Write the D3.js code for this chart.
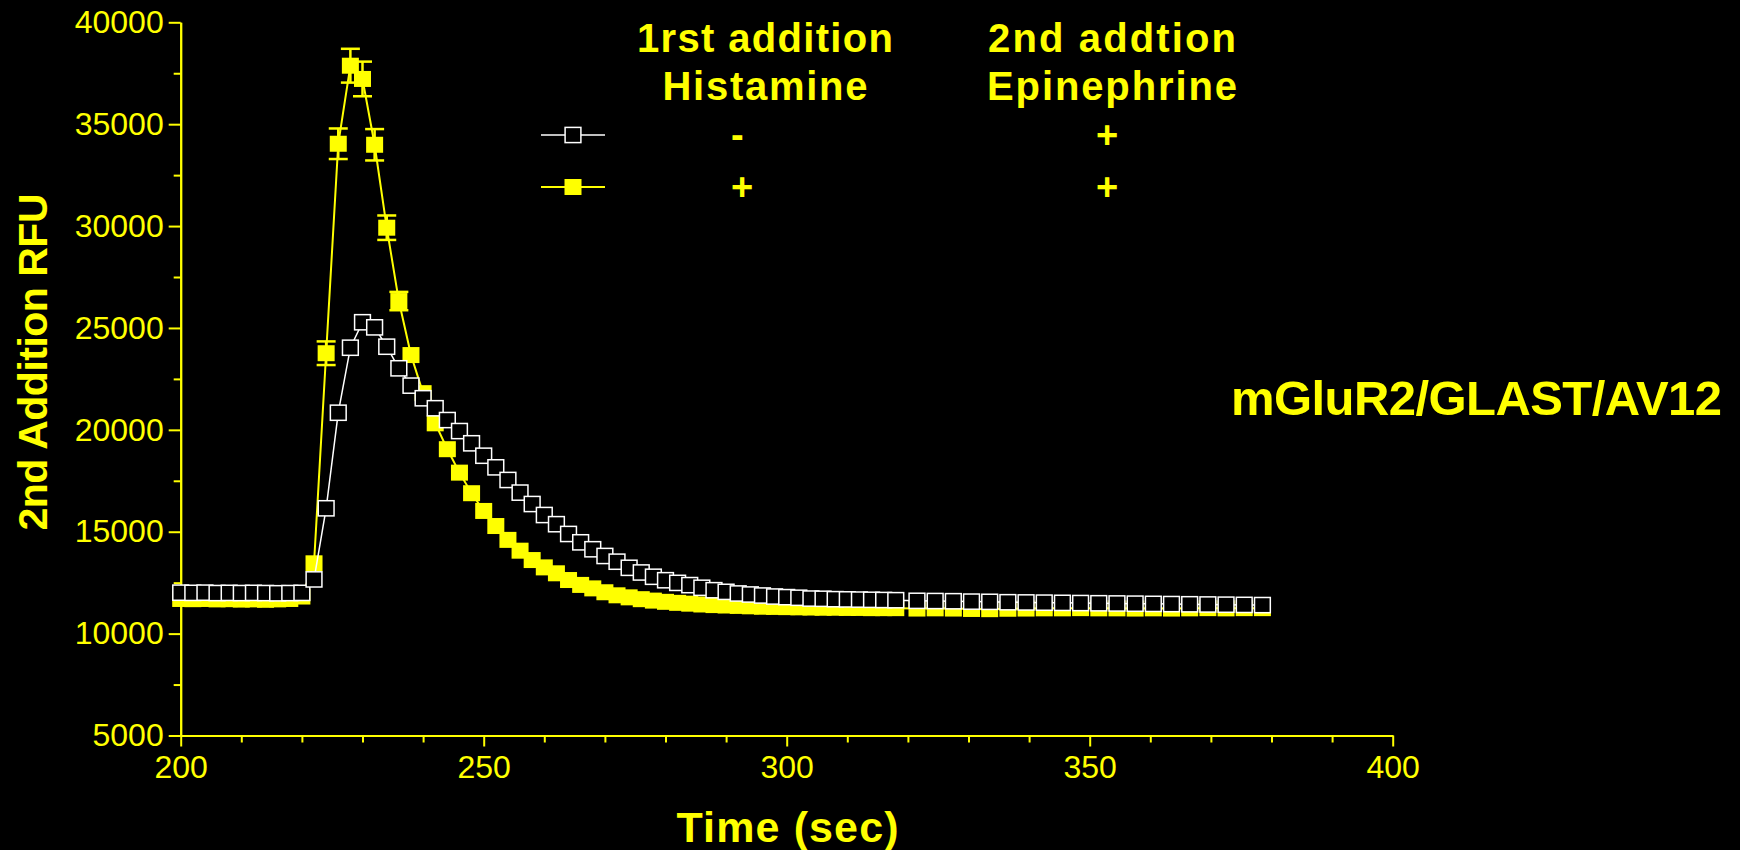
<!DOCTYPE html>
<html>
<head>
<meta charset="utf-8">
<script src="https://cdn.jsdelivr.net/npm/d3@7"></script>
<style>
  html, body { margin: 0; padding: 0; background: #000; }
  svg { display: block; }
  text { font-family: "Liberation Sans", Arial, sans-serif; fill: #ffff00; }
</style>
</head>
<body>
<div id="chart"></div>
<script>
// time points (sec): every 2 s up to 318, then every 3 s
const times = [
  200, 202, 204, 206, 208, 210, 212, 214, 216, 218,
  220, 222, 224, 226, 228, 230, 232, 234, 236, 238,
  240, 242, 244, 246, 248, 250, 252, 254, 256, 258,
  260, 262, 264, 266, 268, 270, 272, 274, 276, 278,
  280, 282, 284, 286, 288, 290, 292, 294, 296, 298,
  300, 302, 304, 306, 308, 310, 312, 314, 316, 318,
  321.5, 324.5, 327.5, 330.5, 333.5, 336.5, 339.5, 342.5, 345.5, 348.5,
  351.5, 354.5, 357.5, 360.5, 363.5, 366.5, 369.5, 372.5, 375.5, 378.5
];

// histamine - / epinephrine +  (open squares)
const rfuNoHist = [
  12010, 12000, 12010, 11990, 12000, 11990, 12000, 11990, 11980, 11990,
  12000, 12660, 16150, 20840, 24030, 25280, 25030, 24080, 23020, 22170,
  21550, 21060, 20480, 19940, 19340, 18730, 18160, 17540, 16920, 16360,
  15820, 15370, 14890, 14480, 14140, 13810, 13530, 13230, 13000, 12790,
  12620, 12490, 12380, 12250, 12130, 12050, 11970, 11920, 11870, 11820,
  11790, 11760, 11720, 11710, 11690, 11680, 11670, 11660, 11650, 11640,
  11610, 11600, 11590, 11570, 11560, 11540, 11530, 11520, 11510, 11500,
  11490, 11480, 11470, 11460, 11450, 11440, 11430, 11420, 11410, 11400
];

// histamine + / epinephrine +  (filled squares)
const rfuHist = [
  11700, 11690, 11700, 11680, 11690, 11670, 11680, 11660, 11680, 11700,
  11820, 13450, 23760, 34040, 37870, 37220, 33990, 29920, 26320, 23670,
  21800, 20320, 19050, 17900, 16890, 16020, 15280, 14600, 14070, 13610,
  13250, 12960, 12630, 12390, 12220, 12030, 11880, 11780, 11690, 11620,
  11560, 11510, 11470, 11430, 11400, 11380, 11360, 11340, 11320, 11310,
  11300, 11290, 11280, 11270, 11270, 11260, 11260, 11250, 11250, 11250,
  11230, 11240, 11230, 11210, 11200, 11220, 11230, 11240, 11240, 11250,
  11240, 11240, 11230, 11240, 11230, 11240, 11250, 11240, 11250, 11250
];

// error of the filled series (only the peak ones show outside the marker)
const errHist = [
  0, 0, 0, 0, 0, 0, 0, 0, 0, 0,
  0, 0, 580, 750, 830, 850, 770, 600, 450, 0
];

const xTicks = [200, 250, 300, 350, 400];
const xMinor = [210, 220, 230, 240, 260, 270, 280, 290, 310, 320, 330, 340, 360, 370, 380, 390];
const yTicks = [5000, 10000, 15000, 20000, 25000, 30000, 35000, 40000];
const yMinor = [7500, 12500, 17500, 22500, 27500, 32500, 37500];

const headers = [['1rst addition', 'Histamine'], ['2nd addtion', 'Epinephrine']];
const legendRows = [['-', '+'], ['+', '+']];

const YELLOW = '#ffff00';
const WHITE = '#ffffff';

const margin = { top: 22.3, left: 180.7 };
const width = 1212;
const height = 713.2;

const svg = d3.select('#chart')
  .append('svg')
  .attr('width', 1740)
  .attr('height', 850)
  .style('background', '#000');

const g = svg.append('g')
  .attr('transform', 'translate(' + margin.left + ',' + margin.top + ')');

const x = d3.scaleLinear().domain([200, 400]).range([0, width]);
const y = d3.scaleLinear().domain([5000, 40000]).range([height, 0]);

function styleAxis(sel) {
  sel.select('.domain').attr('stroke', YELLOW).attr('stroke-width', 2);
  sel.selectAll('.tick line').attr('stroke', YELLOW).attr('stroke-width', 2);
  sel.selectAll('.tick text')
    .attr('fill', YELLOW)
    .style('font-size', '32px')
    .style('font-family', '"Liberation Sans", Arial, sans-serif');
}

// minor ticks
g.append('g')
  .attr('transform', 'translate(0,' + height + ')')
  .call(d3.axisBottom(x).tickValues(xMinor).tickSize(7).tickSizeOuter(0).tickFormat(''))
  .call(styleAxis);
g.append('g')
  .call(d3.axisLeft(y).tickValues(yMinor).tickSize(7).tickSizeOuter(0).tickFormat(''))
  .call(styleAxis);

// X axis
g.append('g')
  .attr('transform', 'translate(0,' + height + ')')
  .call(d3.axisBottom(x).tickValues(xTicks).tickSize(11).tickSizeOuter(0).tickPadding(9).tickFormat(d3.format('d')))
  .call(styleAxis);

// Y axis
g.append('g')
  .call(d3.axisLeft(y).tickValues(yTicks).tickSize(12).tickSizeOuter(0).tickPadding(5).tickFormat(d3.format('d')))
  .call(styleAxis);

// axis titles
svg.append('text')
  .attr('x', 787.5)
  .attr('y', 841.5)
  .attr('text-anchor', 'middle')
  .attr('font-weight', 'bold')
  .attr('textLength', 222)
  .style('font-size', '43px')
  .text('Time (sec)');

svg.append('text')
  .attr('transform', 'translate(46.5,362) rotate(-90)')
  .attr('text-anchor', 'middle')
  .attr('font-weight', 'bold')
  .attr('textLength', 337)
  .style('font-size', '41px')
  .text('2nd Addition RFU');

const line = d3.line()
  .x(d => x(d[0]))
  .y(d => y(d[1]));

const histData = times.map((t, i) => [t, rfuHist[i], errHist[i] || 0]);
const noHistData = times.map((t, i) => [t, rfuNoHist[i]]);

// filled series
g.append('path')
  .datum(histData)
  .attr('fill', 'none')
  .attr('stroke', YELLOW)
  .attr('stroke-width', 2)
  .attr('d', line);

const bars = g.selectAll('.errbar')
  .data(histData.filter(d => d[2] > 0))
  .enter()
  .append('g')
  .attr('class', 'errbar')
  .attr('stroke', YELLOW)
  .attr('stroke-width', 2.5);
bars.append('line')
  .attr('x1', d => x(d[0])).attr('x2', d => x(d[0]))
  .attr('y1', d => y(d[1] - d[2])).attr('y2', d => y(d[1] + d[2]));
bars.append('line')
  .attr('x1', d => x(d[0]) - 9.5).attr('x2', d => x(d[0]) + 9.5)
  .attr('y1', d => y(d[1] + d[2])).attr('y2', d => y(d[1] + d[2]));
bars.append('line')
  .attr('x1', d => x(d[0]) - 9.5).attr('x2', d => x(d[0]) + 9.5)
  .attr('y1', d => y(d[1] - d[2])).attr('y2', d => y(d[1] - d[2]));

g.selectAll('.filled')
  .data(histData)
  .enter()
  .append('rect')
  .attr('class', 'filled')
  .attr('x', d => x(d[0]) - 8.5)
  .attr('y', d => y(d[1]) - 8)
  .attr('width', 17)
  .attr('height', 16)
  .attr('fill', YELLOW);

// open series
g.append('path')
  .datum(noHistData)
  .attr('fill', 'none')
  .attr('stroke', WHITE)
  .attr('stroke-width', 1.5)
  .attr('d', line);

g.selectAll('.open')
  .data(noHistData)
  .enter()
  .append('rect')
  .attr('class', 'open')
  .attr('x', d => x(d[0]) - 7.9)
  .attr('y', d => y(d[1]) - 7.6)
  .attr('width', 15.8)
  .attr('height', 15.2)
  .attr('fill', '#000')
  .attr('stroke', WHITE)
  .attr('stroke-width', 1.5);

// header table / legend
const colX = [765, 1112];
const colW = [[256, 205], [248, 250]];
headers.forEach((h, c) => {
  h.forEach((txt, r) => {
    svg.append('text')
      .attr('x', colX[c])
      .attr('y', r === 0 ? 51.5 : 100)
      .attr('text-anchor', 'middle')
      .attr('font-weight', 'bold')
      .attr('textLength', colW[c][r])
      .style('font-size', '40px')
      .text(txt);
  });
});

const rowY = [135, 187];
const rowColor = [WHITE, YELLOW];
const signX = [731, 1096];
legendRows.forEach((row, r) => {
  svg.append('line')
    .attr('x1', 541).attr('x2', 605)
    .attr('y1', rowY[r]).attr('y2', rowY[r])
    .attr('stroke', rowColor[r])
    .attr('stroke-width', r === 0 ? 1.5 : 2);
  if (r === 0) {
    svg.append('rect')
      .attr('x', 573 - 7.9).attr('y', rowY[r] - 7.6)
      .attr('width', 15.8).attr('height', 15.2)
      .attr('fill', '#000').attr('stroke', WHITE).attr('stroke-width', 1.5);
  } else {
    svg.append('rect')
      .attr('x', 573 - 8.5).attr('y', rowY[r] - 8)
      .attr('width', 17).attr('height', 16)
      .attr('fill', YELLOW);
  }
  row.forEach((s, c) => {
    svg.append('text')
      .attr('x', signX[c])
      .attr('y', rowY[r] + 13)
      .attr('font-weight', 'bold')
      .style('font-size', '38px')
      .text(s);
  });
});

svg.append('text')
  .attr('x', 1231)
  .attr('y', 415)
  .attr('font-weight', 'bold')
  .attr('textLength', 491)
  .style('font-size', '49px')
  .text('mGluR2/GLAST/AV12');
</script>
</body>
</html>
